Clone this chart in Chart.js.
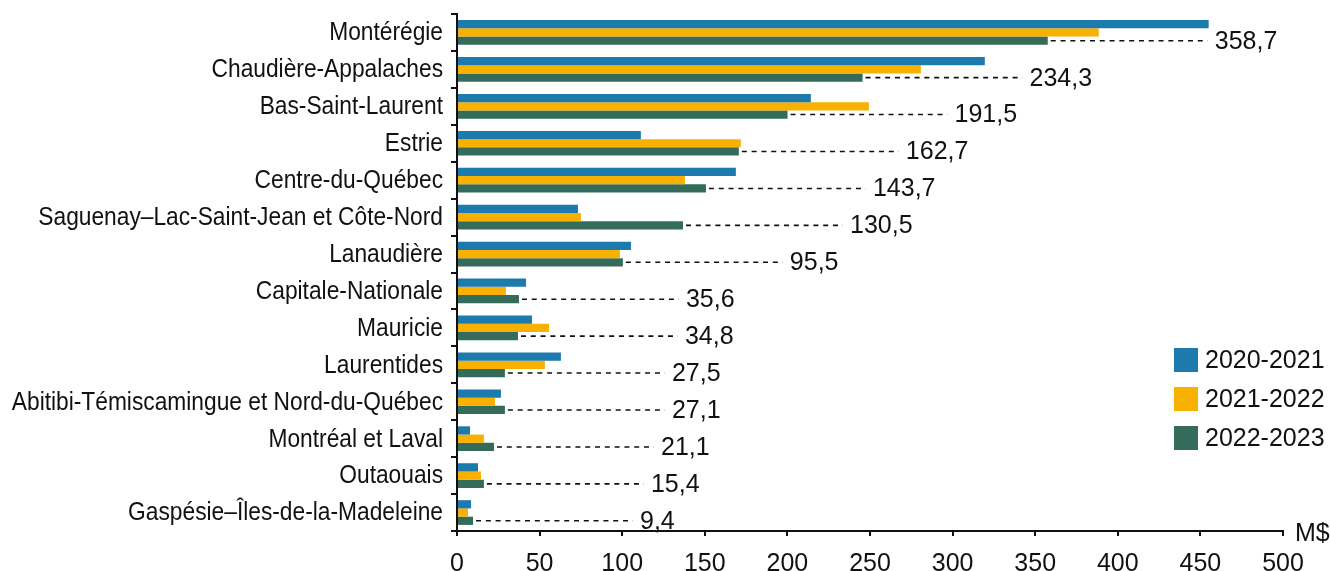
<!DOCTYPE html>
<html>
<head>
<meta charset="utf-8">
<script src="https://cdn.jsdelivr.net/npm/chart.js@4/dist/chart.umd.min.js"></script>
<style>
  html, body { margin: 0; padding: 0; background: #fff; }
  #wrap { width: 1330px; height: 571px; }
</style>
</head>
<body>
<div id="wrap"><canvas id="graphique"></canvas></div>
<script>
const regions = [
    "Montérégie",
    "Chaudière-Appalaches",
    "Bas-Saint-Laurent",
    "Estrie",
    "Centre-du-Québec",
    "Saguenay–Lac-Saint-Jean et Côte-Nord",
    "Lanaudière",
    "Capitale-Nationale",
    "Mauricie",
    "Laurentides",
    "Abitibi-Témiscamingue et Nord-du-Québec",
    "Montréal et Laval",
    "Outaouais",
    "Gaspésie–Îles-de-la-Madeleine"
];

const annees = ["2020-2021", "2021-2022", "2022-2023"];

const valeurs2021 = [455, 319.5, 214.2, 111.3, 168.8, 73.2, 105.3, 41.8, 45.4, 62.9, 26.6, 7.9, 12.7, 8.5];
const valeurs2022 = [388.5, 280.8, 249.3, 171.8, 138, 75, 98.6, 29.6, 55.7, 53.2, 23, 16.3, 14.5, 6.7];
const valeurs2023 = [357.6, 245.5, 200.1, 170.6, 150.7, 136.8, 100.4, 37.5, 36.9, 29, 29, 22.4, 16.3, 9.7];

const etiquettes2023 = ["358,7", "234,3", "191,5", "162,7", "143,7", "130,5", "95,5", "35,6", "34,8", "27,5", "27,1", "21,1", "15,4", "9,4"];

const ticksX = [0, 50, 100, 150, 200, 250, 300, 350, 400, 450, 500];

const couleurs = ["#1C7AAC", "#F8B100", "#346B5B"];

const policeNombres = "Liberation Sans, Arial, sans-serif";

// noms des régions (police étroite simulée), lignes pointillées, étiquettes, légende
const pluginAnnotations = {
    id: "annotations",
    afterDatasetsDraw(chart) {
        const ctx = chart.ctx;
        const ys = chart.scales.y;
        const xs = chart.scales.x;
        ctx.save();

        // noms des régions
        ctx.font = "25px " + policeNombres;
        ctx.textBaseline = "middle";
        ctx.textAlign = "right";
        ctx.fillStyle = "#111";
        regions.forEach((r, i) => {
            const y = ys.getPixelForValue(i);
            ctx.save();
            ctx.translate(ys.right - 14, y + 1);
            ctx.scale(0.91, 1);
            ctx.fillText(r, 0, 0);
            ctx.restore();
        });

        const meta = chart.getDatasetMeta(2);
        ctx.textAlign = "left";
        meta.data.forEach((barre, i) => {
            const debut = barre.x + 3;
            const fin = barre.x + 160;
            ctx.strokeStyle = "#111";
            ctx.lineWidth = 1.6;
            ctx.setLineDash([5, 4.8]);
            ctx.beginPath();
            ctx.moveTo(debut, barre.y);
            ctx.lineTo(fin, barre.y);
            ctx.stroke();
            ctx.setLineDash([]);
            ctx.fillText(etiquettes2023[i], fin + 7, barre.y + 1);
        });

        // légende
        const xBoite = 1174;
        const yCentres = [360, 399, 438];
        annees.forEach((a, i) => {
            ctx.fillStyle = couleurs[i];
            ctx.fillRect(xBoite, yCentres[i] - 12, 24, 24);
            ctx.fillStyle = "#111";
            ctx.fillText(a, xBoite + 31, yCentres[i] + 1);
        });

        // unité
        ctx.fillText("M$", xs.right + 12, xs.top + 3);
        ctx.restore();
    }
};

const ctx = document.getElementById("graphique").getContext("2d");

const graphique = new Chart(ctx, {
    type: "bar",
    data: {
        labels: regions,
        datasets: annees.map((a, i) => ({
            label: a,
            data: [valeurs2021, valeurs2022, valeurs2023][i],
            backgroundColor: couleurs[i],
            borderWidth: 0,
            categoryPercentage: 0.67,
            barPercentage: 1.0
        }))
    },
    options: {
        indexAxis: "y",
        responsive: true,
        maintainAspectRatio: false,
        animation: false,
        layout: {
            padding: { top: 14, right: 47, left: 0, bottom: 0 }
        },
        plugins: {
            legend: { display: false },
            tooltip: { enabled: false }
        },
        scales: {
            x: {
                min: 0,
                max: 500,
                afterBuildTicks: (scale) => {
                    scale.ticks = ticksX.map(v => ({ value: v }));
                },
                afterFit: (scale) => { scale.height = 40; },
                grid: {
                    drawOnChartArea: false,
                    drawTicks: true,
                    tickLength: 5,
                    color: "#111",
                    lineWidth: 2
                },
                border: { color: "#111", width: 2 },
                ticks: {
                    color: "#111",
                    font: { family: policeNombres, size: 25 },
                    padding: 13,
                    maxRotation: 0
                }
            },
            y: {
                afterFit: (scale) => { scale.width = 457; },
                grid: {
                    drawOnChartArea: false,
                    drawTicks: true,
                    tickLength: 6,
                    color: "#111",
                    lineWidth: 2
                },
                border: { color: "#111", width: 2 },
                ticks: {
                    display: false,
                    autoSkip: false
                }
            }
        }
    },
    plugins: [pluginAnnotations]
});
</script>
</body>
</html>
